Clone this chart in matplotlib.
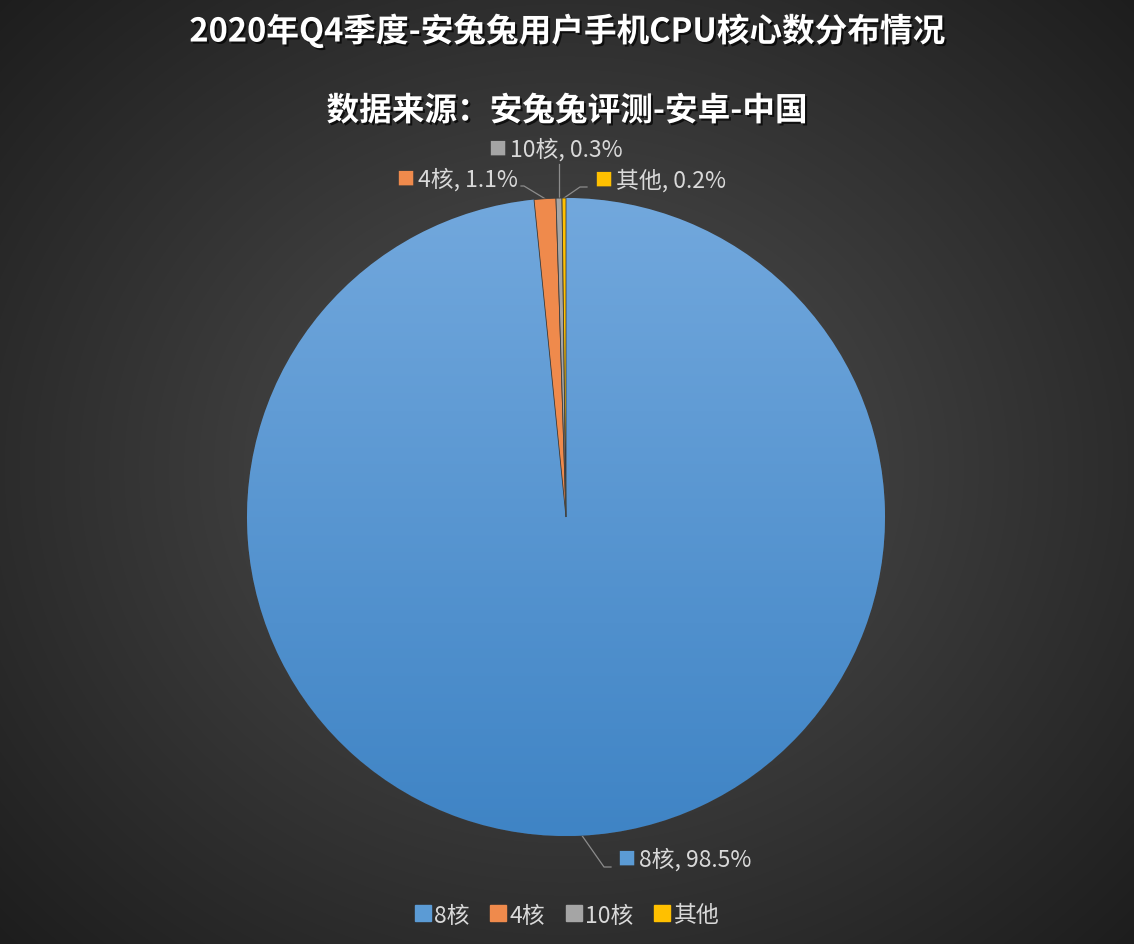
import numpy as np
import matplotlib
matplotlib.use("Agg")
import matplotlib.pyplot as plt
import matplotlib.patheffects as pe
from matplotlib.lines import Line2D

plt.rcParams['font.family'] = ['Noto Sans CJK SC', 'DejaVu Sans']

title = "2020年Q4季度-安兔兔用户手机CPU核心数分布情况"
subtitle = "数据来源：安兔兔评测-安卓-中国"
labels = ["8核", "4核", "10核", "其他"]
shares = [98.5, 1.1, 0.3, 0.2]
colors = ["#5b9bd5", "#ef8a4c", "#a5a5a5", "#ffc000"]

W, H = 1134, 945
fig = plt.figure(figsize=(W / 100, H / 100), dpi=100)

# radial dark background
bg = fig.add_axes([0, 0, 1, 1])
yy, xx = np.mgrid[0:H, 0:W]
r = np.hypot((xx - 566) / 800, (yy - 470) / 700)
shade = np.clip(0.32 - 0.21 * r, 0.09, 0.32)
bg.imshow(np.dstack([shade] * 3), aspect='auto', extent=(0, W, H, 0))
bg.set_xlim(0, W)
bg.set_ylim(H, 0)
bg.axis('off')

# pie area, centre (566, 518), radius 319 px
cx, cy, rad = 566, 518, 319
ax = fig.add_axes([(cx - rad) / W, (H - cy - rad) / H, 2 * rad / W, 2 * rad / H])
wedges, _ = ax.pie(shares, colors=colors, startangle=90, counterclock=False,
                   radius=1, wedgeprops=dict(linewidth=0.6, edgecolor="#3d3d3d"))
ax.set_xlim(-1, 1)
ax.set_ylim(-1, 1)
ax.axis('off')

# gradient fill for the big blue slice
grad = np.linspace(0, 1, 256)[:, None]
blue_top = np.array([0x72, 0xa8, 0xdd]) / 255
blue_bot = np.array([0x3f, 0x84, 0xc5]) / 255
img = blue_top + (blue_bot - blue_top) * grad[..., None]
img = np.repeat(img, 4, axis=1)
im = ax.imshow(img, extent=(-1, 1, -1, 1), aspect='auto', zorder=1.5)
im.set_clip_path(wedges[0])
for w in wedges[1:]:
    w.set_zorder(2)

# data labels (pixel positions of label text) and leader lines
def to_fig(px, py):
    return px / W, 1 - py / H

def edge_point(i):
    w = wedges[i]
    mid = np.deg2rad((w.theta1 + w.theta2) / 2)
    return cx + rad * np.cos(mid), cy - rad * np.sin(mid)

label_pos = {0: (620, 860), 1: (399, 180), 2: (491, 150), 3: (597, 181)}
gx = edge_point(2)[0]
leader = {0: [(604, 868), (611, 868)], 1: [(524, 187), (521, 187)],
          2: [(gx, 165)], 3: [(580, 188), (587, 188)]}
tcol = "#d9d9d9"
for i, (lab, v) in enumerate(zip(labels, shares)):
    px, py = label_pos[i]
    fx, fy = to_fig(px + 6, py)
    fig.text(fx, fy, "■", color=colors[i], fontsize=13, va='center', ha='center')
    fx, fy = to_fig(px + 19, py)
    fig.text(fx, fy, f"{lab}, {v}%", color=tcol, fontsize=16.5, va='center', ha='left')
    pts = [edge_point(i)] + leader[i]
    xs = [p[0] for p in pts]
    ys = [p[1] for p in pts]
    bg.plot(xs, ys, color="#8c8c8c", lw=0.9, zorder=3)

# titles
shadow = [pe.SimplePatchShadow(offset=(1.5, -1.5), shadow_rgbFace='black', alpha=0.7), pe.Normal()]
fig.text(0.5, 1 - 32 / H, title, color="white", fontsize=23.5, fontweight='bold',
         ha='center', va='center', path_effects=shadow)
fig.text(0.5, 1 - 112 / H, subtitle, color="white", fontsize=23.5, fontweight='bold',
         ha='center', va='center', path_effects=shadow)

# legend
handles = [Line2D([], [], marker='s', linestyle='none', markersize=12,
                  markerfacecolor=c, markeredgecolor=c) for c in colors]
leg = fig.legend(handles, labels, loc='center', bbox_to_anchor=(0.5, 1 - 916 / H),
                 ncol=4, frameon=False, fontsize=16.5, handlelength=0.7,
                 handletextpad=0.15, columnspacing=0.9)
for t in leg.get_texts():
    t.set_color(tcol)

fig.savefig("out.png", dpi=100)
